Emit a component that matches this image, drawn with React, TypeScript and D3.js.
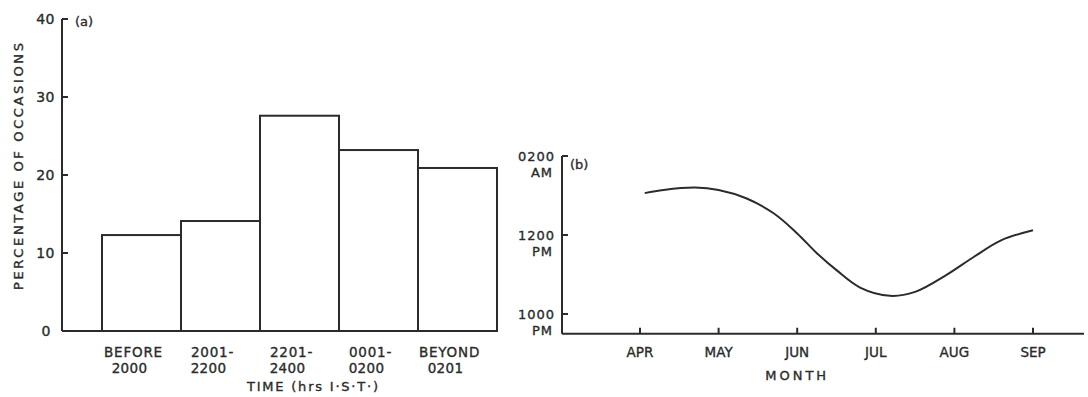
import * as d3 from "d3";

// panel (a): percentage of occasions by time window
const TIME_BINS = ["BEFORE 2000", "2001- 2200", "2201- 2400", "0001- 0200", "BEYOND 0201"];
const PERCENT = [12.3, 14.1, 27.6, 23.2, 20.9];
const PCT_TICKS = [0, 10, 20, 30, 40];

// panel (b): time of occurrence across the monsoon months (hours, 24 = midnight)
const MONTHS = ["APR", "MAY", "JUN", "JUL", "AUG", "SEP"];
const CURVE_MONTH = [4.06, 4.3, 4.7, 5.0, 5.35, 5.7, 6.0, 6.25, 6.5, 6.8, 7.18, 7.5, 7.9, 8.25, 8.6, 9.0];
const CURVE_HOUR = [25.06, 25.14, 25.2, 25.14, 24.93, 24.55, 24.04, 23.54, 23.11, 22.67, 22.46, 22.56, 22.99, 23.45, 23.87, 24.12];
const HOUR_TICKS = [22, 24, 26];
const HOUR_LABELS = [["1000", "PM"], ["1200", "PM"], ["0200", "AM"]];

const INK = "#2b2b2b";
const FONT = "DejaVu Sans, Verdana, sans-serif";

export default function App() {
  const W = 1088;
  const H = 397;

  // ---- panel (a) scales
  const xA = d3.scaleBand<string>().domain(TIME_BINS).range([102, 497]).padding(0);
  const yA = d3.scaleLinear().domain([0, 40]).range([331, 19]);
  const axisXA = 62;

  // ---- panel (b) scales
  const xB = d3.scaleLinear().domain([4, 9]).range([640, 1033]);
  const yB = d3.scaleLinear().domain([22, 26]).range([314, 156]);
  const axisXB = 562;
  const baseB = yB(21.5);

  const line = d3
    .line<number>()
    .x((_, i) => xB(CURVE_MONTH[i]))
    .y((d) => yB(d))
    .curve(d3.curveCatmullRom.alpha(0.5));

  const stroke = { stroke: INK, strokeWidth: 2, fill: "none" };
  // printed lettering is a bit heavier than DejaVu Book
  const ink = { fill: INK, stroke: INK, strokeWidth: 0.35 };

  return (
    <svg
      width={W}
      height={H}
      viewBox={`0 0 ${W} ${H}`}
      style={{ position: "absolute", left: 0, top: 0, background: "#fff" }}
      fontFamily={FONT}
    >
      {/* ===== panel (a) ===== */}
      <g>
        {TIME_BINS.map((c, i) => (
          <rect
            key={c}
            x={xA(c)}
            y={yA(PERCENT[i])}
            width={xA.bandwidth()}
            height={yA(0) - yA(PERCENT[i])}
            {...stroke}
          />
        ))}
        <line x1={axisXA} x2={axisXA} y1={yA(40)} y2={yA(0)} {...stroke} />
        <line x1={axisXA} x2={xA.range()[1]} y1={yA(0)} y2={yA(0)} {...stroke} />
        {PCT_TICKS.map((t) => (
          <g key={t}>
            <line x1={axisXA} x2={axisXA + 6} y1={yA(t)} y2={yA(t)} {...stroke} />
            <text
              x={t === 0 ? 51 : 55}
              y={yA(t)}
              dy="0.36em"
              textAnchor="end"
              fontSize={14}
              letterSpacing={0.5}
              {...ink}
            >
              {t}
            </text>
          </g>
        ))}
        <text x={75} y={26} fontSize={13} {...ink}>(a)</text>
        <text
          transform={`translate(23,${(43 + 290) / 2}) rotate(-90)`}
          textAnchor="middle"
          fontSize={13}
          textLength={247}
          lengthAdjust="spacing"
          {...ink}
        >
          PERCENTAGE OF OCCASIONS
        </text>
        {TIME_BINS.map((c) => {
          const [l1, l2] = c.split(" ");
          const cx = (xA(c) as number) + xA.bandwidth() / 2;
          return (
            <g key={c}>
              <text x={cx - 8} y={357} textAnchor="middle" fontSize={13.5} letterSpacing={0.8} {...ink}>
                {l1}
              </text>
              <text x={cx - 12} y={373} textAnchor="middle" fontSize={13.5} letterSpacing={0.3} {...ink}>
                {l2}
              </text>
            </g>
          );
        })}
        <text x={247} y={391} fontSize={13} textLength={131} lengthAdjust="spacing" {...ink}>
          TIME (hrs I·S·T·)
        </text>
      </g>

      {/* ===== panel (b) ===== */}
      <g>
        <line x1={axisXB} x2={axisXB} y1={yB(26)} y2={baseB} {...stroke} />
        <line x1={axisXB} x2={1084} y1={baseB} y2={baseB} {...stroke} />
        {HOUR_TICKS.map((t, i) => (
          <g key={t}>
            <line x1={axisXB} x2={axisXB + 6} y1={yB(t)} y2={yB(t)} {...stroke} />
            <text x={555} y={yB(t) + 5} textAnchor="end" fontSize={13} letterSpacing={1} {...ink}>
              {HOUR_LABELS[i][0]}
            </text>
            <text x={553} y={yB(t) + 21} textAnchor="end" fontSize={13} letterSpacing={1} {...ink}>
              {HOUR_LABELS[i][1]}
            </text>
          </g>
        ))}
        <text x={570} y={169} fontSize={13} {...ink}>(b)</text>
        {MONTHS.map((m, i) => (
          <g key={m}>
            <line x1={xB(4 + i)} x2={xB(4 + i)} y1={baseB} y2={baseB - 6} {...stroke} />
            <text x={xB(4 + i)} y={357} textAnchor="middle" fontSize={13.5} {...ink}>
              {m}
            </text>
          </g>
        ))}
        <text x={xB(6)} y={380} textAnchor="middle" fontSize={13} letterSpacing={3} {...ink}>
          MONTH
        </text>
        <path d={line(CURVE_HOUR) ?? ""} {...stroke} />
      </g>
    </svg>
  );
}
